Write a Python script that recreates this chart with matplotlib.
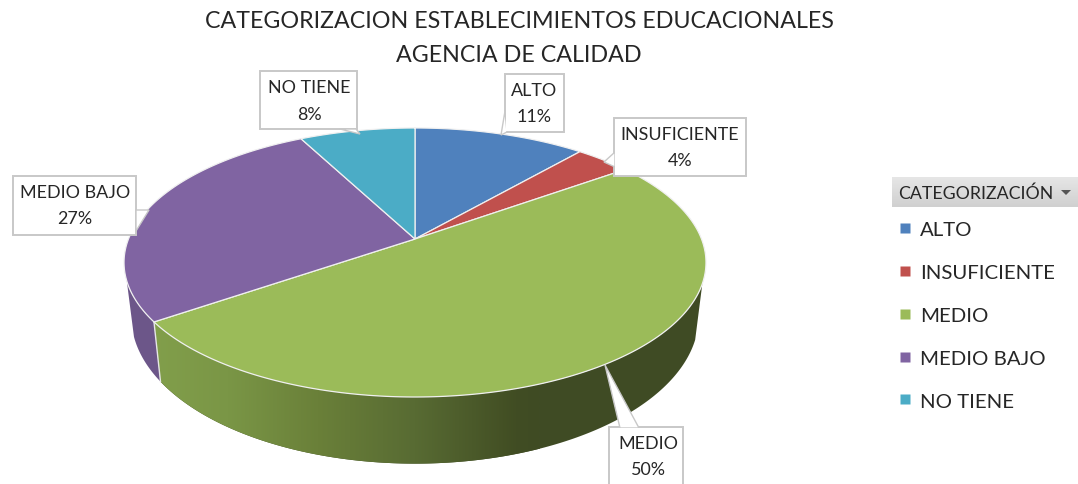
import numpy as np
import matplotlib
matplotlib.use("Agg")
import matplotlib.pyplot as plt
from matplotlib.colors import LinearSegmentedColormap
from matplotlib.lines import Line2D
from matplotlib.patches import Polygon, Rectangle

plt.rcParams['font.family'] = ['Lato', 'DejaVu Sans']

categories = ["ALTO", "INSUFICIENTE", "MEDIO", "MEDIO BAJO", "NO TIENE"]
values = [11.3, 3.7, 50.3, 27.1, 7.6]
colors = ["#4f81bd", "#c0504d", "#9bbb59", "#8064a2", "#4bacc6"]
title_lines = ["CATEGORIZACION ESTABLECIMIENTOS EDUCACIONALES", "AGENCIA DE CALIDAD"]
legend_title = "CATEGORIZACIÓN"

# label boxes: left, top, right, bottom, then text centre x
boxes = [
  (505, 75, 564, 133, 534),
  (614, 119, 746, 177, 680),
  (609, 428, 683, 495, 648),
  (13, 177, 136, 236, 75),
  (260, 72, 357, 130, 309),
]
leaders = [
  [(505, 112), (501, 136), (507, 133)],
  [(615, 153), (604, 163), (615, 168)],
  [(620, 429), (605, 366), (639, 429)],
  [(136, 211), (149, 211), (136, 232)],
  [(340, 130), (360, 135), (356, 130)],
]

CX, CY = 415, 240
A, B, P = 286.5, 130.4, 0.1747


def rim(theta):
  # perspective ellipse, theta runs clockwise from the top
  x = np.sin(theta)
  y = np.cos(theta)
  w = 1 + P * y
  return CX + A * x / w, CY - B * y / w


def lower(sx, sy):
  return CX + 0.975 * (sx - CX), 1.092 * sy + 30


def side_poly(t0, t1):
  t = np.linspace(t0, t1, 200)
  sx, sy = rim(t)
  lx, ly = lower(sx, sy)
  return np.column_stack([np.r_[sx, lx[::-1]], np.r_[sy, ly[::-1]]])


fig = plt.figure(figsize=(10.78, 4.85), dpi=100)
ax = fig.add_axes([0, 0, 1, 1])

edges = np.r_[0, np.cumsum(values)] / sum(values) * 2 * np.pi

# side walls, the wall only shows from just past the widest point of the rim
medio_side = Polygon(side_poly(1.9, edges[3]), closed=True, fc="#3f4b24", ec="none", zorder=1)
ax.add_patch(medio_side)
green_cmap = LinearSegmentedColormap.from_list(
  "g", [(0, "#829f4b"), (0.2, "#7a9646"), (0.43, "#6a8039"), (0.68, "#586b33"), (0.94, "#414d23"), (1, "#3f4b24")])
im = ax.imshow(np.linspace(0, 1, 256)[None, :], extent=(150, 540, 485, 0), cmap=green_cmap, aspect="auto", zorder=1.5)
im.set_clip_path(medio_side)
ax.add_patch(Polygon(side_poly(edges[3], edges[3] + 0.3), closed=True, fc="#6c5689", ec="none", zorder=1))
sx, sy = rim(edges[3])
lx, ly = lower(sx, sy)
ax.plot([sx, lx], [sy, ly], color="#e6e6e6", lw=1, zorder=2)

# top face
for i in range(len(values)):
  t = np.linspace(edges[i], edges[i + 1], 200)
  sx, sy = rim(t)
  pts = np.column_stack([np.r_[CX, sx], np.r_[CY, sy]])
  ax.add_patch(Polygon(pts, closed=True, fc=colors[i], ec="#f0f0f0", lw=0.9, zorder=3))

# label boxes
for i, (l, t, r, b, tx) in enumerate(boxes):
  ax.add_patch(Rectangle((l, t), r - l, b - t, fc="white", ec="#c8c8c8", lw=1.4, zorder=4))
  ax.add_patch(Polygon(leaders[i], closed=True, fc="white", ec="#c8c8c8", lw=1, zorder=4))
  ax.add_patch(Rectangle((l + 1, t + 1), r - l - 2, b - t - 2, fc="white", ec="none", zorder=4))
  ax.text(tx, t + 16, categories[i], ha="center", va="center", fontsize=12.9, color="#262626", zorder=5)
  pct = round(values[i] / sum(values) * 100)
  ax.text(tx, t + 42.5, f"{pct}%", ha="center", va="center", fontsize=12.9, color="#262626", zorder=5)

ax.text(519, 21, title_lines[0], ha="center", va="center", fontsize=16.75, color="#262626")
ax.text(519, 55, title_lines[1], ha="center", va="center", fontsize=16.75, color="#262626")

# legend header
ax.imshow(np.linspace(0, 1, 64)[:, None], extent=(892, 1078, 208, 178), aspect="auto",
          cmap=LinearSegmentedColormap.from_list("h", ["#e6e6e6", "#d0d0d0"]), zorder=1)
ax.text(898, 194, legend_title, ha="left", va="center", fontsize=12.8, color="#262626")
ax.add_patch(Polygon([(1061, 191), (1071, 191), (1066, 196)], closed=True, fc="#555555", ec="none"))

handles = [Line2D([], [], ls="none", marker="s", ms=6.5, mfc=c, mec="none") for c in colors]
ax.legend(handles, categories, loc="upper left", bbox_to_anchor=(893, 222), bbox_transform=ax.transData,
          frameon=False, fontsize=14.7, labelspacing=1.25, handletextpad=0.13, handlelength=1.2,
          labelcolor="#262626", borderpad=0, borderaxespad=0)

ax.set_xlim(0, 1078)
ax.set_ylim(485, 0)
ax.axis("off")
fig.savefig("out.png", dpi=100)
